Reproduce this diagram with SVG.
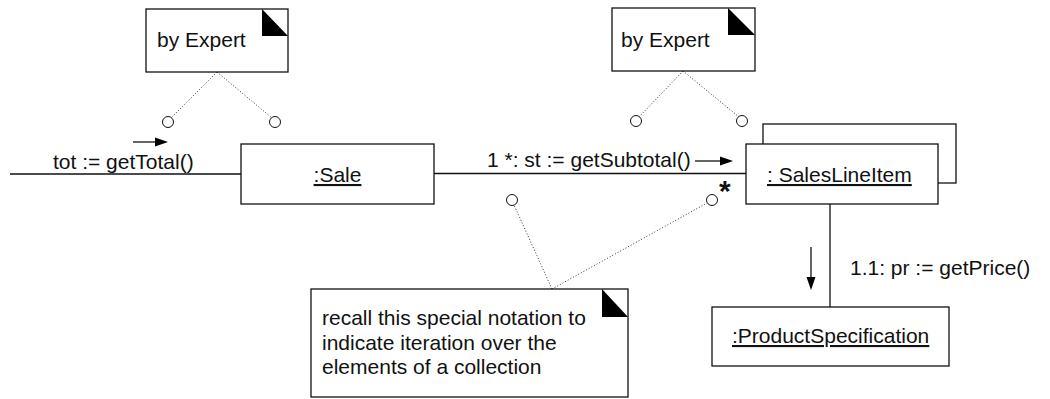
<svg xmlns="http://www.w3.org/2000/svg" width="1050" height="399" viewBox="0 0 1050 399">
  <style>
    text { font-family: "Liberation Sans", Arial, Helvetica, sans-serif; font-size: 21px; fill: #111; }
    .box { fill: #fff; stroke: #111; stroke-width: 1.3; }
    .link { fill: none; stroke: #111; stroke-width: 1.3; }
    .anchor { fill: none; stroke: #333; stroke-width: 1; stroke-dasharray: 1 2; }
    .pin { fill: #fff; stroke: #111; stroke-width: 1; }
    .fold { fill: #000; }
    .obj { text-decoration: underline; }
  </style>

  <!-- message links -->
  <g id="connectors">
    <line class="link" x1="10" y1="174" x2="241" y2="174"/>
    <line class="link" x1="434" y1="173.5" x2="746" y2="173.5"/>
    <line class="link" x1="830" y1="204" x2="830" y2="307"/>

    <!-- message direction arrows -->
    <line class="link" x1="133" y1="142" x2="158" y2="142"/>
    <polygon points="168,142 155,137.5 155,146.5" fill="#000"/>
    <line class="link" x1="695" y1="161" x2="723" y2="161"/>
    <polygon points="733,161 720,156.5 720,165.5" fill="#000"/>
    <line class="link" x1="811" y1="247" x2="811" y2="280"/>
    <polygon points="811,290 806.5,277 815.5,277" fill="#000"/>

    <!-- note anchors -->
    <line class="anchor" x1="217" y1="72" x2="171" y2="118"/>
    <line class="anchor" x1="217" y1="72" x2="272" y2="118"/>
    <line class="anchor" x1="683" y1="71" x2="639" y2="117"/>
    <line class="anchor" x1="683" y1="71" x2="739" y2="117"/>
    <line class="anchor" x1="552" y1="289" x2="514" y2="205"/>
    <line class="anchor" x1="552" y1="289" x2="707" y2="203"/>
    <circle class="pin" cx="168" cy="122" r="5.5"/>
    <circle class="pin" cx="275" cy="122" r="5.5"/>
    <circle class="pin" cx="636" cy="121" r="5.5"/>
    <circle class="pin" cx="742" cy="121" r="5.5"/>
    <circle class="pin" cx="512" cy="200" r="5.5"/>
    <circle class="pin" cx="712" cy="200" r="5.5"/>

    <!-- message labels -->
    <text x="53" y="169">tot := getTotal()</text>
    <text x="487" y="167">1 *: st := getSubtotal()</text>
    <text x="850" y="275">1.1: pr := getPrice()</text>
    <text x="719" y="201" style="font-size:30px;font-weight:bold">*</text>
  </g>

  <g id="note-expert-sale">
    <rect class="box" x="146" y="9" width="142" height="63"/>
    <polygon class="fold" points="262,9 262,36 288,36"/>
    <text x="157" y="47">by Expert</text>
  </g>

  <g id="note-expert-item">
    <rect class="box" x="612" y="8" width="143" height="63"/>
    <polygon class="fold" points="728,8 728,35 755,35"/>
    <text x="621" y="47">by Expert</text>
  </g>

  <g id="sale">
    <rect class="box" x="241" y="144" width="193" height="60"/>
    <text class="obj" x="337.5" y="182" text-anchor="middle">:Sale</text>
  </g>

  <g id="sales-line-item">
    <rect class="box" x="763" y="124" width="193" height="59"/>
    <rect class="box" x="746" y="144" width="192" height="60"/>
    <text class="obj" x="767" y="182">: SalesLineItem</text>
  </g>

  <g id="product-specification">
    <rect class="box" x="712" y="307" width="237" height="59"/>
    <text class="obj" x="732" y="343">:ProductSpecification</text>
  </g>

  <g id="note-iteration">
    <rect class="box" x="311" y="289" width="317" height="108"/>
    <polygon class="fold" points="602,289 602,317 628,317"/>
    <text x="322" y="325">recall this special notation to</text>
    <text x="322" y="350">indicate iteration over the</text>
    <text x="322" y="374">elements of a collection</text>
  </g>
</svg>
